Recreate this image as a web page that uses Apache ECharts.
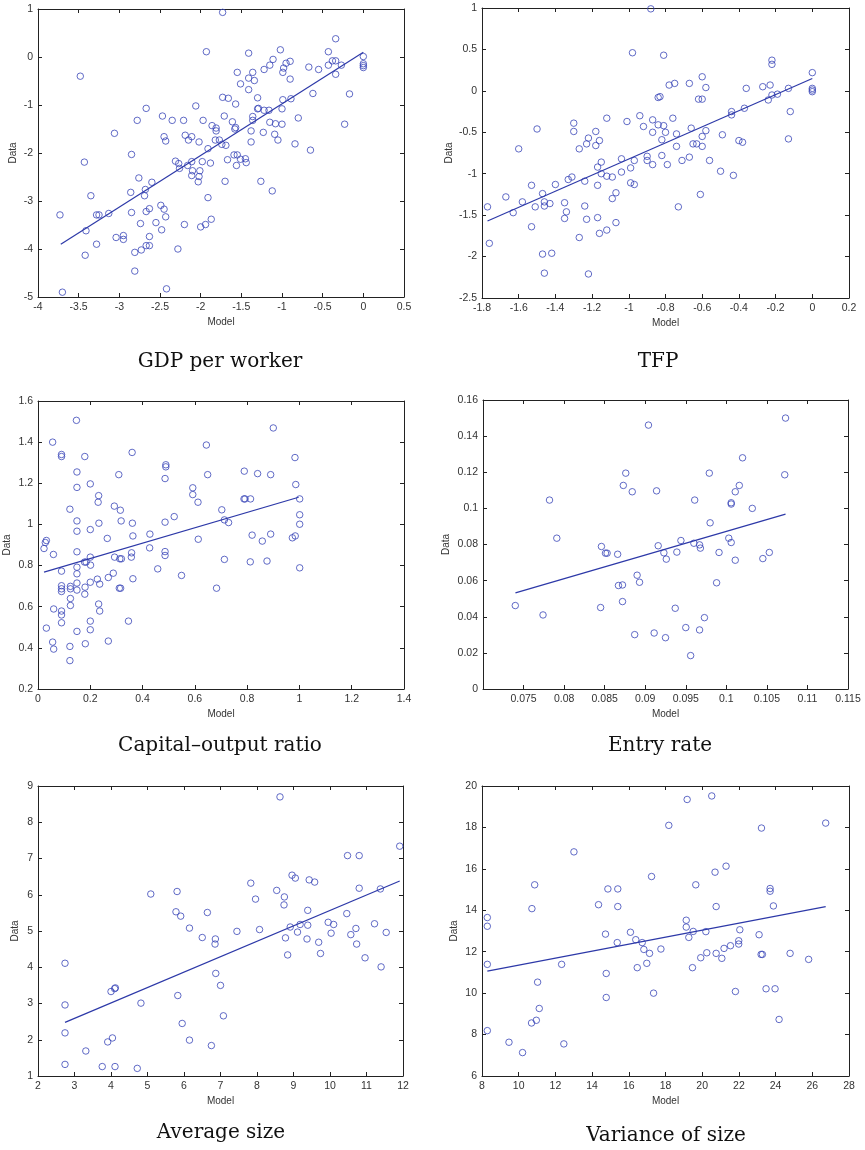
<!DOCTYPE html>
<html>
<head>
<meta charset="utf-8">
<script src="https://cdn.jsdelivr.net/npm/echarts@6/dist/echarts.min.js"></script>
<style>
html,body{margin:0;padding:0;background:#fff;}
#chart{width:865px;height:1150px;}
</style>
</head>
<body>
<div id="chart"></div>
<script>
// ---------------- DATA ----------------
const gdpPoints = [[-1.73,0.93],[-1.93,0.11],[-3.48,-0.40],[-1.41,0.08],[-1.02,0.15],[-0.34,0.38],[-0.43,0.11],[0,0.01],[0,-0.14],[0,-0.18],[0,-0.22],
[-1.55,-0.32],[-1.36,-0.32],[-1.41,-0.44],[-1.34,-0.49],[-1.51,-0.56],[-1.41,-0.68],[-1.22,-0.26],[-1.15,-0.17],[-1.11,-0.05],[-0.99,-0.32],[-0.98,-0.23],[-0.95,-0.13],[-0.90,-0.09],[-0.90,-0.46],[-0.67,-0.21],[-0.55,-0.26],[-0.43,-0.17],[-0.38,-0.08],[-0.34,-0.08],[-0.34,-0.36],[-0.27,-0.17],[-0.62,-0.76],[-0.17,-0.77],[-0.23,-1.40],[-0.65,-1.94],
[-1.73,-0.84],[-1.66,-0.86],[-1.57,-0.98],[-1.30,-0.85],[-1.29,-1.07],[-1.30,-1.08],[-1.22,-1.11],[-1.16,-1.11],[-1.00,-1.08],[-0.99,-0.89],[-0.89,-0.87],[-0.80,-1.27],[-1.15,-1.36],[-1.08,-1.39],[-1.00,-1.40],[-1.09,-1.61],[-1.05,-1.73],[-1.23,-1.57],[-0.84,-1.81],[-1.36,-1.24],[-1.36,-1.32],[-1.38,-1.54],[-1.38,-1.77],
[-1.71,-1.23],[-1.61,-1.35],[-1.57,-1.47],[-1.58,-1.50],[-1.86,-1.43],[-1.81,-1.48],[-1.81,-1.54],[-1.97,-1.32],[-2.06,-1.02],[-1.82,-1.73],[-1.77,-1.73],[-1.74,-1.82],[-1.69,-1.84],[-1.91,-1.91],[-2.02,-1.77],[-2.11,-1.66],[-2.15,-1.73],[-2.19,-1.63],[-2.21,-1.32],[-2.35,-1.32],[-2.47,-1.23],[-2.45,-1.66],[-2.43,-1.75],[-2.67,-1.07],[-2.78,-1.32],[-3.06,-1.59],[-3.43,-2.19],[-2.85,-2.03],[-2.76,-2.52],[-2.60,-2.61],[-2.68,-2.76],[-2.69,-2.89],[-2.86,-2.82],[-2.85,-3.24],[-3.35,-2.89],[-3.28,-3.29],[-3.25,-3.29],[-3.13,-3.26],[-3.73,-3.29],[-3.41,-3.62],[-3.28,-3.90],[-3.42,-4.13],[-3.04,-3.76],[-2.95,-3.72],[-2.95,-3.80],[-2.81,-4.07],[-2.73,-4.02],[-2.81,-4.46],[-2.74,-3.47],[-2.67,-3.22],[-2.63,-3.16],[-2.63,-3.74],[-2.67,-3.93],[-2.63,-3.93],[-2.55,-3.45],[-2.49,-3.09],[-2.45,-3.17],[-2.43,-3.33],[-2.48,-3.60],[-2.42,-4.83],[-3.70,-4.90],[-2.28,-4.00],[-2.20,-3.49],[-2.00,-3.54],[-1.94,-3.49],[-1.87,-3.38],[-1.91,-2.93],[-1.70,-2.59],[-1.26,-2.59],[-1.12,-2.79],[-2.03,-2.60],[-2.02,-2.49],[-2.11,-2.47],[-2.01,-2.37],[-2.10,-2.37],[-2.11,-2.18],[-2.16,-2.26],[-2.27,-2.22],[-2.31,-2.17],[-2.26,-2.32],[-1.98,-2.18],[-1.88,-2.21],[-1.67,-2.14],[-1.59,-2.04],[-1.55,-2.04],[-1.56,-2.26],[-1.45,-2.12],[-1.44,-2.20],[-1.51,-2.13]];
const gdpFit = [[-3.72,-3.90],[0,0.10]];

const tfpPoints = [[-0.88,0.99],[-0.98,0.46],[-0.81,0.43],[-0.22,0.37],[-0.22,0.32],[0,0.22],[0,0.03],[0,0.01],[0,-0.01],[-0.78,0.07],[-0.75,0.09],[-0.67,0.09],[-0.60,0.17],[-0.58,0.04],[-0.62,-0.10],[-0.60,-0.10],[-0.36,0.03],[-0.27,0.05],[-0.23,0.07],[-0.22,-0.05],[-0.19,-0.04],[-0.24,-0.11],[-0.13,0.03],[-0.12,-0.25],[-0.13,-0.58],[-0.37,-0.21],[-0.44,-0.25],[-0.44,-0.29],[-0.40,-0.60],[-0.38,-0.62],[-0.49,-0.53],[-0.43,-1.02],[-0.50,-0.97],[-0.61,-1.25],[-0.56,-0.84],[-0.58,-0.48],[-0.60,-0.55],[-0.60,-0.67],[-0.65,-0.64],[-0.63,-0.64],[-0.66,-0.45],[-0.67,-0.80],[-0.71,-0.84],[-0.74,-0.67],[-0.74,-0.52],[-0.76,-0.33],[-0.73,-1.40],[-0.79,-0.89],[-0.82,-0.78],[-0.80,-0.50],[-0.81,-0.42],[-0.82,-0.59],[-0.84,-0.41],[-0.87,-0.50],[-0.87,-0.35],[-0.84,-0.08],[-0.83,-0.07],[-0.87,-0.89],[-0.94,-0.30],[-0.92,-0.43],[-0.90,-0.79],[-0.90,-0.84],[-0.97,-0.84],[-0.99,-0.93],[-0.99,-1.11],[-0.97,-1.13],[-1.01,-0.37],[-1.04,-0.82],[-1.04,-0.98],[-1.07,-1.23],[-1.07,-1.59],[-1.09,-1.30],[-1.09,-1.04],[-1.12,-1.03],[-1.12,-1.68],[-1.12,-0.33],[-1.16,-0.60],[-1.15,-0.86],[-1.17,-0.92],[-1.15,-1.00],[-1.17,-1.14],[-1.17,-1.53],[-1.16,-1.72],[-1.18,-0.49],[-1.18,-0.66],[-1.22,-0.57],[-1.23,-0.64],[-1.24,-1.09],[-1.24,-1.39],[-1.23,-1.55],[-1.22,-2.21],[-1.27,-0.70],[-1.27,-1.77],[-1.30,-0.39],[-1.30,-0.49],[-1.31,-1.04],[-1.33,-1.07],[-1.35,-1.35],[-1.34,-1.46],[-1.35,-1.54],[-1.40,-1.13],[-1.43,-1.36],[-1.46,-1.34],[-1.47,-1.24],[-1.46,-1.39],[-1.47,-1.97],[-1.42,-1.96],[-1.46,-2.20],[-1.50,-0.46],[-1.53,-1.14],[-1.53,-1.64],[-1.51,-1.40],[-1.58,-1.34],[-1.63,-1.47],[-1.67,-1.28],[-1.60,-0.70],[-1.77,-1.40],[-1.76,-1.84]];
const tfpFit = [[-1.77,-1.57],[0,0.15]];

const capPoints = [[0.147,1.506],[0.056,1.40],[0.09,1.34],[0.09,1.33],[0.179,1.33],[0.149,1.255],[0.149,1.18],[0.20,1.197],[0.122,1.074],[0.232,1.14],[0.23,1.108],[0.149,1.017],[0.149,0.967],[0.20,0.975],[0.233,1.006],[0.309,1.242],[0.36,1.35],[0.315,1.069],[0.318,1.017],[0.361,1.006],[0.292,1.089],[0.363,0.944],[0.265,0.932],[0.032,0.922],[0.028,0.912],[0.023,0.883],[0.059,0.854],[0.149,0.867],[0.20,0.841],[0.201,0.802],[0.178,0.817],[0.184,0.817],[0.149,0.792],[0.149,0.76],[0.09,0.773],[0.293,0.841],[0.313,0.833],[0.319,0.833],[0.358,0.862],[0.357,0.841],[0.288,0.763],[0.269,0.742],[0.363,0.736],[0.20,0.719],[0.227,0.734],[0.236,0.71],[0.18,0.695],[0.149,0.715],[0.149,0.681],[0.124,0.699],[0.124,0.687],[0.09,0.702],[0.09,0.687],[0.09,0.674],[0.311,0.69],[0.316,0.69],[0.124,0.64],[0.124,0.606],[0.179,0.661],[0.232,0.613],[0.236,0.579],[0.06,0.589],[0.09,0.579],[0.09,0.56],[0.09,0.522],[0.032,0.496],[0.20,0.53],[0.20,0.488],[0.149,0.48],[0.346,0.53],[0.056,0.428],[0.06,0.394],[0.122,0.407],[0.181,0.42],[0.269,0.433],[0.122,0.338],[0.428,0.953],[0.427,0.886],[0.458,0.784],[0.489,1.29],[0.489,1.28],[0.486,1.223],[0.486,1.011],[0.486,0.868],[0.486,0.849],[0.521,1.038],[0.549,0.752],[0.592,1.178],[0.592,1.145],[0.612,1.108],[0.613,0.928],[0.644,1.386],[0.649,1.242],[0.683,0.69],[0.703,1.071],[0.713,1.022],[0.729,1.009],[0.713,0.83],[0.788,1.124],[0.792,1.124],[0.813,1.124],[0.789,1.259],[0.84,1.247],[0.89,1.242],[0.90,1.469],[0.819,0.948],[0.858,0.919],[0.89,0.953],[0.812,0.818],[0.876,0.822],[0.983,1.325],[0.986,1.194],[1.001,1.124],[1.001,1.047],[1.001,1.001],[0.973,0.935],[0.984,0.944],[1.001,0.789]];
const capFit = [[0.023,0.768],[0.997,1.132]];

const entryPoints = [[0.07398,0.0462],[0.0774,0.041],[0.0782,0.1046],[0.0791,0.0835],[0.0846,0.0789],[0.0851,0.0752],[0.0853,0.0752],[0.0866,0.0746],[0.0845,0.0451],[0.0867,0.0573],[0.0872,0.0576],[0.0872,0.0484],[0.0873,0.1127],[0.0876,0.1195],[0.0884,0.1092],[0.0887,0.0301],[0.089,0.063],[0.0893,0.0591],[0.0904,0.1461],[0.0911,0.031],[0.0914,0.1097],[0.0916,0.0793],[0.0923,0.0754],[0.0926,0.0719],[0.0925,0.0284],[0.0937,0.0447],[0.0939,0.0758],[0.0944,0.0822],[0.095,0.034],[0.0956,0.0185],[0.096,0.0807],[0.0961,0.1046],[0.0967,0.0798],[0.0968,0.078],[0.0967,0.0327],[0.0973,0.0395],[0.0979,0.1195],[0.098,0.092],[0.0988,0.0588],[0.0991,0.0756],[0.1003,0.0835],[0.1006,0.0811],[0.1006,0.1031],[0.1006,0.1024],[0.1011,0.0713],[0.1011,0.1092],[0.1016,0.1127],[0.102,0.128],[0.1032,0.1],[0.1045,0.0722],[0.1053,0.0756],[0.1072,0.1186],[0.1073,0.15]];
const entryFit = [[0.074,0.0532],[0.1073,0.0968]];

const avgPoints = [[8.63,8.70],[11.91,7.34],[10.48,7.08],[10.80,7.08],[8.96,6.54],[9.05,6.46],[9.43,6.41],[9.58,6.35],[7.83,6.32],[8.54,6.12],[8.75,5.94],[8.74,5.72],[7.96,5.88],[10.80,6.18],[11.38,6.16],[5.09,6.02],[5.81,6.09],[5.78,5.53],[5.91,5.41],[6.15,5.08],[6.64,5.51],[6.50,4.82],[6.86,4.78],[6.85,4.64],[7.45,4.99],[8.07,5.04],[9.39,5.57],[8.91,5.11],[9.18,5.18],[9.39,5.16],[9.11,4.97],[8.78,4.81],[9.37,4.78],[8.84,4.34],[9.69,4.69],[9.74,4.38],[9.95,5.24],[10.10,5.18],[10.03,4.94],[10.46,5.48],[10.57,4.90],[10.71,5.07],[10.73,4.64],[10.96,4.26],[11.22,5.20],[11.54,4.96],[11.40,4.01],[6.87,3.83],[7.00,3.50],[7.08,2.66],[5.83,3.22],[5.95,2.45],[6.15,1.99],[6.75,1.84],[4.82,3.01],[4.00,3.33],[4.10,3.41],[4.12,3.43],[2.74,4.11],[2.74,2.96],[2.74,2.19],[2.74,1.32],[3.31,1.69],[3.91,1.94],[4.04,2.05],[3.76,1.26],[4.11,1.26],[4.72,1.21]];
const avgFit = [[2.74,2.48],[11.91,6.38]];

const varPoints = [[8.29,13.65],[8.29,13.23],[8.29,11.39],[8.29,8.19],[9.47,7.63],[10.21,7.13],[10.72,14.08],[10.87,15.23],[11.03,10.53],[11.12,9.26],[10.70,8.56],[10.96,8.69],[12.34,11.39],[12.46,7.55],[13.01,16.82],[14.35,14.27],[14.73,12.85],[14.77,10.95],[14.77,9.79],[14.86,15.03],[15.40,15.03],[15.40,14.18],[15.37,12.44],[16.09,12.94],[16.38,12.58],[16.46,11.23],[16.73,12.44],[16.82,12.11],[16.98,11.44],[17.13,11.92],[17.24,15.63],[17.35,10.0],[17.75,12.13],[18.18,18.10],[19.18,19.35],[19.13,13.52],[19.13,13.19],[19.27,12.69],[19.51,12.98],[19.65,15.23],[19.47,11.23],[19.92,11.71],[20.20,12.97],[20.25,11.95],[20.52,19.52],[20.70,15.84],[20.76,14.18],[20.76,11.92],[21.07,11.68],[21.19,12.16],[21.30,16.13],[21.54,12.29],[21.81,10.08],[21.99,12.53],[21.99,12.37],[22.05,13.06],[23.10,12.82],[23.21,11.87],[23.28,11.87],[23.23,17.97],[23.48,10.21],[23.70,15.05],[23.70,14.92],[23.88,14.21],[23.97,10.21],[24.19,8.73],[24.79,11.92],[25.80,11.63],[26.73,18.21]];
const varFit = [[8.29,11.06],[26.73,14.18]];

const titles = ['GDP per worker','TFP','Capital\u2013output ratio','Entry rate','Average size','Variance of size'];
const xAxisName = 'Model';
const yAxisName = 'Data';

// ---------------- LAYOUT ----------------
const panels = [
  {pts:gdpPoints, fit:gdpFit, grid:{left:38,top:9,width:366,height:288}, x:{min:-4,max:0.5,interval:0.5}, y:{min:-5,max:1,interval:1}, yGap:20, t:[220,364]},
  {pts:tfpPoints, fit:tfpFit, grid:{left:482,top:8,width:367,height:290}, x:{min:-1.8,max:0.2,interval:0.2}, y:{min:-2.5,max:1,interval:0.5}, yGap:28, t:[658,364]},
  {pts:capPoints, fit:capFit, grid:{left:38,top:401,width:366,height:288}, x:{min:0,max:1.4,interval:0.2}, y:{min:0.2,max:1.6,interval:0.2}, yGap:26, t:[220,748]},
  {pts:entryPoints, fit:entryFit, grid:{left:483,top:400,width:365,height:289}, x:{min:0.07,max:0.115,interval:0.005,hideMin:true}, y:{min:0,max:0.16,interval:0.02}, yGap:32, t:[660,748]},
  {pts:avgPoints, fit:avgFit, grid:{left:38,top:786,width:365,height:290}, x:{min:2,max:12,interval:1}, y:{min:1,max:9,interval:1}, yGap:18, t:[221,1135]},
  {pts:varPoints, fit:varFit, grid:{left:482,top:786,width:367,height:290}, x:{min:8,max:28,interval:2}, y:{min:6,max:20,interval:2}, yGap:23, t:[666,1138]}
];

const markColor = '#3a46b8';
const lineColor = '#2d39a8';
const axisColor = '#222';
const labelFont = {fontFamily:'Liberation Sans, Arial, sans-serif', fontSize:10.5, color:'#333'};

const option = {animation:false, grid:[], xAxis:[], yAxis:[], series:[], title:[]};

panels.forEach((p, i) => {
  option.grid.push(Object.assign({containLabel:false}, p.grid));
  const tick = {show:true, inside:true, length:4, lineStyle:{color:axisColor, width:1}};
  const line = {show:true, onZero:false, lineStyle:{color:axisColor, width:1}};
  option.xAxis.push({
    type:'value', gridIndex:i, position:'bottom', min:p.x.min, max:p.x.max, interval:p.x.interval,
    axisLine:line, axisTick:tick, splitLine:{show:false},
    axisLabel:Object.assign({margin:5, showMinLabel:!p.x.hideMin}, labelFont),
    name:xAxisName, nameLocation:'middle', nameGap:20,
    nameTextStyle:{fontFamily:'Liberation Sans, Arial, sans-serif', fontSize:10, color:'#333'}
  });
  option.xAxis.push({
    type:'value', gridIndex:i, position:'top', min:p.x.min, max:p.x.max, interval:p.x.interval,
    axisLine:line, axisTick:tick, splitLine:{show:false}, axisLabel:{show:false}
  });
  option.yAxis.push({
    type:'value', gridIndex:i, position:'left', min:p.y.min, max:p.y.max, interval:p.y.interval,
    axisLine:line, axisTick:tick, splitLine:{show:false},
    axisLabel:Object.assign({margin:5}, labelFont),
    name:yAxisName, nameLocation:'middle', nameGap:p.yGap,
    nameTextStyle:{fontFamily:'Liberation Sans, Arial, sans-serif', fontSize:10, color:'#333'}
  });
  option.yAxis.push({
    type:'value', gridIndex:i, position:'right', min:p.y.min, max:p.y.max, interval:p.y.interval,
    axisLine:line, axisTick:tick, splitLine:{show:false}, axisLabel:{show:false}
  });
  option.series.push({
    type:'scatter', xAxisIndex:2*i, yAxisIndex:2*i, data:p.pts, symbol:'circle', symbolSize:6.5,
    itemStyle:{color:'rgba(0,0,0,0)', borderColor:markColor, borderWidth:1}, silent:true
  });
  option.series.push({
    type:'line', xAxisIndex:2*i, yAxisIndex:2*i, data:p.fit, showSymbol:false, symbol:'none',
    lineStyle:{color:lineColor, width:1.2}, silent:true
  });
  option.title.push({
    text:titles[i], left:p.t[0], top:p.t[1]-12, textAlign:'center', padding:0,
    textStyle:{fontFamily:'DejaVu Serif, serif', fontSize:20, fontWeight:'normal', color:'#111'}
  });
});

const chart = echarts.init(document.getElementById('chart'), null, {renderer:'canvas'});
chart.setOption(option);
</script>
</body>
</html>
